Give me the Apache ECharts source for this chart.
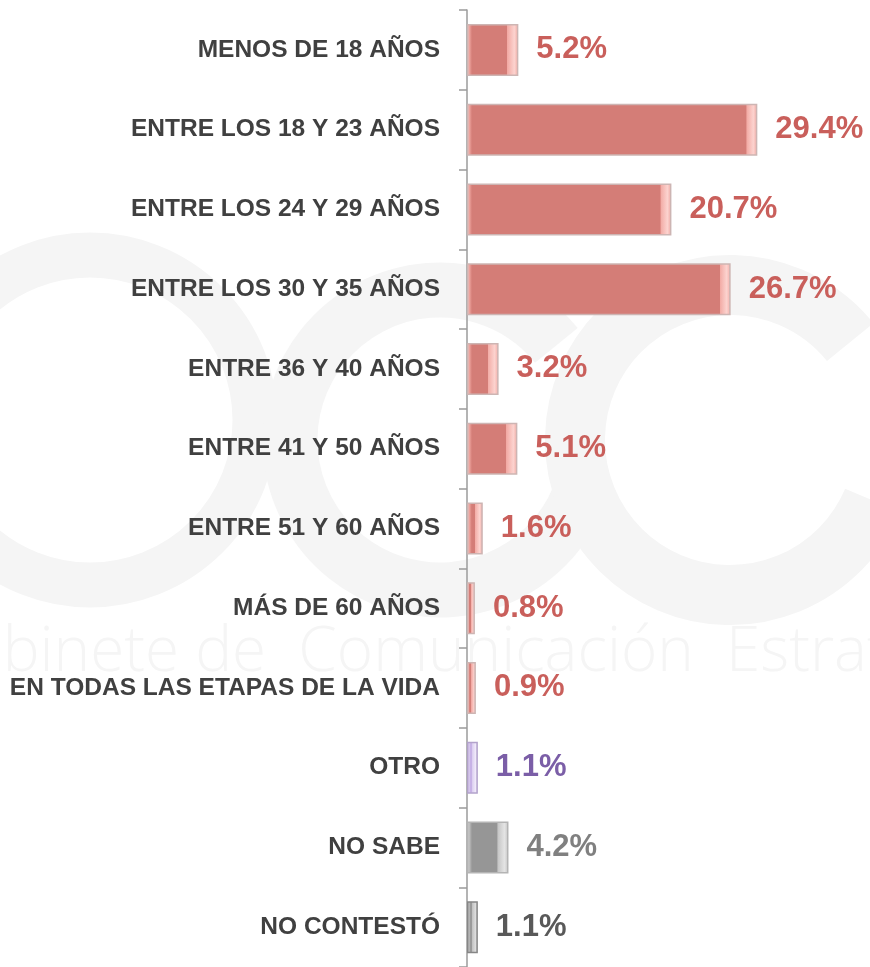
<!DOCTYPE html>
<html>
<head>
<meta charset="utf-8">
<script src="https://cdn.jsdelivr.net/npm/echarts@6/dist/echarts.min.js"></script>
<style>
  html, body { margin: 0; padding: 0; background: #ffffff; }
  #chart { width: 870px; height: 967px; }
</style>
</head>
<body>
<div id="chart"></div>
<script>
// Age distribution, horizontal bars with bevelled look
var categories = [
  'MENOS DE 18 AÑOS',
  'ENTRE LOS 18 Y 23 AÑOS',
  'ENTRE LOS 24 Y 29 AÑOS',
  'ENTRE LOS 30 Y 35 AÑOS',
  'ENTRE 36 Y 40 AÑOS',
  'ENTRE 41 Y 50 AÑOS',
  'ENTRE 51 Y 60 AÑOS',
  'MÁS DE 60 AÑOS',
  'EN TODAS LAS ETAPAS DE LA VIDA',
  'OTRO',
  'NO SABE',
  'NO CONTESTÓ'
];
var values = [5.2, 29.4, 20.7, 26.7, 3.2, 5.1, 1.6, 0.8, 0.9, 1.1, 4.2, 1.1];
// colour group per bar: 'red', 'purple', 'gray', 'dark'
var groups = ['red', 'red', 'red', 'red', 'red', 'red', 'red', 'red', 'red', 'purple', 'gray', 'dark'];

(function() {
  var palette = {
    red:    { base: '#d47d77', edge: '#f2aaa4', hi: '#fcd3cf', label: '#c95f5b', border: '#cdb5b3' },
    purple: { base: '#c7b2e6', edge: '#ddd0f1', hi: '#f1ebfa', label: '#7b5ea7', border: '#b2a2cb' },
    gray:   { base: '#969696', edge: '#c4c4c4', hi: '#e4e4e4', label: '#808080', border: '#b4b4b4' },
    dark:   { base: '#9a9a9a', edge: '#c4c4c4', hi: '#dedede', label: '#595959', border: '#868686' }
  };
  var xMax = 40;
  var gridLeft = 467, gridRight = 8;
  var pxPerUnit = (870 - gridLeft - gridRight) / xMax;

  function bevel(v, p) {
    var w = Math.max(v * pxPerUnit, 1);
    var a = Math.min(2 / w, 0.2);
    var a2 = Math.min(5 / w, 0.3);
    var b = Math.max(1 - 11 / w, 0.5);
    var c = Math.max(1 - 4 / w, 0.8);
    return {
      type: 'linear', x: 0, y: 0, x2: 1, y2: 0,
      colorStops: [
        { offset: 0, color: p.hi },
        { offset: a, color: p.edge },
        { offset: a2, color: p.base },
        { offset: b, color: p.base },
        { offset: Math.min(b + 0.001, c), color: p.edge },
        { offset: c, color: p.hi },
        { offset: 1, color: p.edge }
      ]
    };
  }

  var barData = values.map(function(v, i) {
    var p = palette[groups[i]];
    return {
      value: v,
      itemStyle: { color: bevel(v, p), borderColor: p.border, borderWidth: 1.5 },
      label: { color: p.label }
    };
  });

  var wm = '#f5f5f5';
  var chart = echarts.init(document.getElementById('chart'), null, { renderer: 'canvas' });
  chart.setOption({
    animation: false,
    backgroundColor: '#ffffff',
    graphic: [
      {
        type: 'text', left: -75, top: 622, z: -10, silent: true,
        style: {
          text: 'Gabinete de  Comunicación  Estratégica',
          fontFamily: '"Open Sans", sans-serif', fontWeight: 300, fontSize: 62, fill: wm
        }
      },
      {
        type: 'circle', z: -10, silent: true,
        shape: { cx: 90, cy: 420, r: 165 },
        style: { fill: 'none', stroke: wm, lineWidth: 45 }
      },
      {
        type: 'arc', z: -10, silent: true,
        shape: { cx: 440, cy: 440, r: 150, startAngle: 0.3, endAngle: 5.6 },
        style: { fill: 'none', stroke: wm, lineWidth: 55 }
      },
      {
        type: 'arc', z: -10, silent: true,
        shape: { cx: 730, cy: 440, r: 155, startAngle: 0.4, endAngle: 5.6 },
        style: { fill: 'none', stroke: wm, lineWidth: 60 }
      }
    ],
    grid: { left: gridLeft, right: gridRight, top: 10, bottom: -3, containLabel: false },
    xAxis: {
      type: 'value', min: 0, max: xMax, show: false
    },
    yAxis: {
      type: 'category',
      data: categories,
      inverse: true,
      axisLine: { show: true, lineStyle: { color: '#9b9b9b', width: 1.5 } },
      axisTick: { show: true, alignWithLabel: false, length: 8, lineStyle: { color: '#9b9b9b', width: 1.5 } },
      axisLabel: {
        margin: 27,
        color: '#404040',
        fontFamily: '"Liberation Sans", Arial, sans-serif',
        fontWeight: 'bold',
        fontSize: 24.5
      },
      splitLine: { show: false }
    },
    series: [{
      type: 'bar',
      data: barData,
      barWidth: 52,
      label: {
        show: true,
        position: 'right',
        distance: 18,
        fontFamily: '"Liberation Sans", Arial, sans-serif',
        fontWeight: 'bold',
        fontSize: 31,
        formatter: function(p) { return p.value.toFixed(1) + '%'; }
      }
    }]
  });
})();
</script>
</body>
</html>
